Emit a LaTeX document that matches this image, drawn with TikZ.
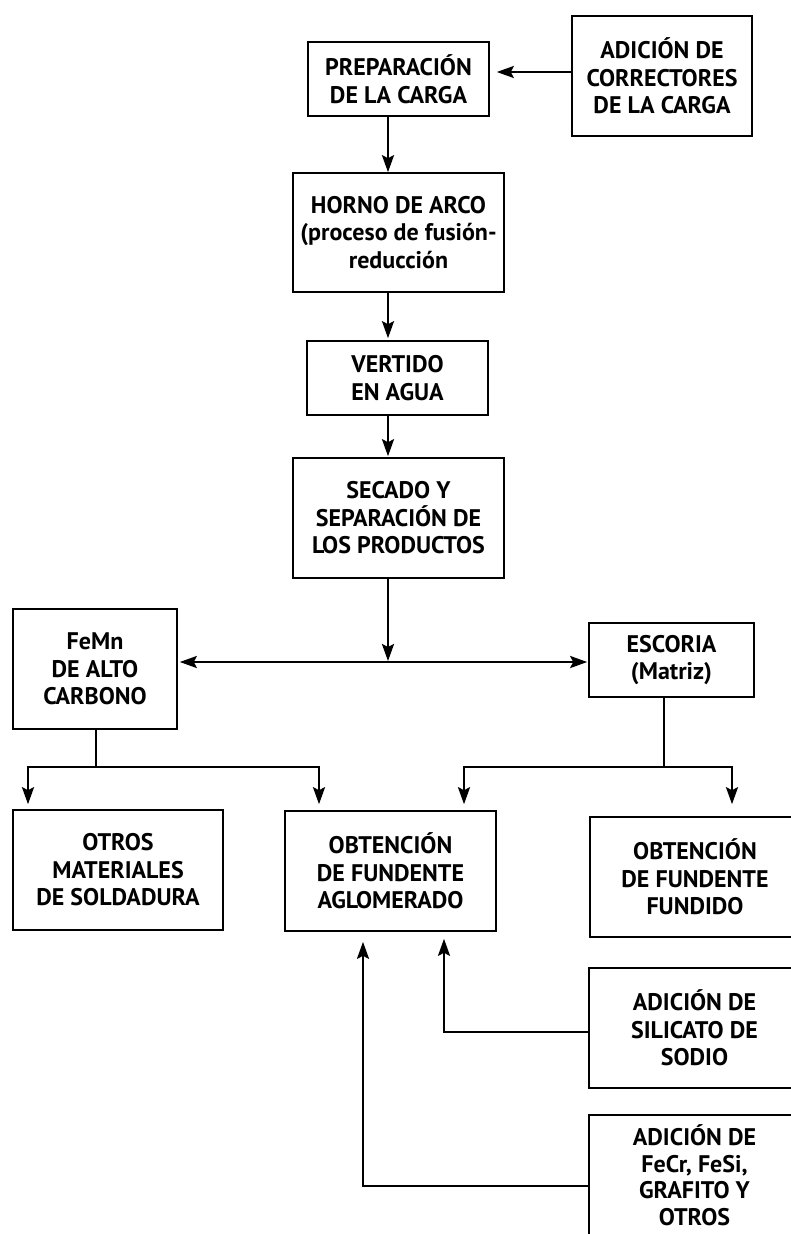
\documentclass[tikz,border=0pt]{standalone}
\usepackage{fontspec}
\setmainfont{PT Sans}
\usetikzlibrary{arrows.meta,calc}
\begin{document}
\begin{tikzpicture}[x=1pt,y=-1pt,
  box/.style={draw,line width=1.6pt,inner sep=0pt,align=center,
    font=\bfseries\fontsize{24}{27.5}\selectfont},
  tip/.tip={Stealth[length=17pt,width=12pt,inset=3pt]},
  arr/.style={line width=2.4pt,-tip},
  ln/.style={line width=2.4pt}]
\useasboundingbox (0,0) rectangle (791,1234);
\clip (0,0) rectangle (791,1234);
\fill[white] (0,0) rectangle (791,1234);
% boxes
\node[box,minimum width=181pt,minimum height=74pt] (prep) at (398.5,79) {PREPARACIÓN\\DE LA CARGA};
\node[box,minimum width=180pt,minimum height=120pt] (corr) at (662,76) {ADICIÓN DE\\CORRECTORES\\DE LA CARGA};
\node[box,minimum width=211pt,minimum height=119pt] (horno) at (398.5,232.5) {HORNO DE ARCO\\(proceso de fusión-\\reducción};
\node[box,minimum width=181pt,minimum height=74pt] (vert) at (397.5,378) {VERTIDO\\EN AGUA};
\node[box,minimum width=211pt,minimum height=120pt] (sec) at (398.5,518) {SECADO Y\\SEPARACIÓN DE\\LOS PRODUCTOS};
\node[box,minimum width=164pt,minimum height=120pt] (femn) at (95,669) {FeMn\\DE ALTO\\CARBONO};
\node[box,minimum width=165pt,minimum height=74pt] (esc) at (671.5,660) {ESCORIA\\(Matriz)};
\node[box,minimum width=210pt,minimum height=120pt] (otros) at (118,870) {OTROS\\MATERIALES\\DE SOLDADURA};
\node[box,minimum width=211pt,minimum height=120pt] (aglo) at (390.5,871) {OBTENCIÓN\\DE FUNDENTE\\AGLOMERADO};
\node[box,minimum width=210pt,minimum height=120pt] (fund) at (695,877) {OBTENCIÓN\\DE FUNDENTE\\FUNDIDO};
\node[box,minimum width=211pt,minimum height=120pt] (sil) at (694.5,1028) {ADICIÓN DE\\SILICATO DE\\SODIO};
\node[box,minimum width=211pt,minimum height=120pt,font=\bfseries\fontsize{24}{26.5}\selectfont] (fecr) at (694.5,1175) {ADICIÓN DE\\FeCr, FeSi,\\GRAFITO Y\\OTROS};
% helper coordinates
\coordinate (ax) at (388,0);
\coordinate (ty) at (0,72);
\coordinate (j) at (388,662);
\coordinate (fx) at (96,767);
\coordinate (fl) at (28,767);
\coordinate (fr) at (319,767);
\coordinate (ex) at (664,767);
\coordinate (el) at (464,767);
\coordinate (er) at (732,767);
\coordinate (s1) at (444,1032);
\coordinate (s2) at (363,1186);
% connectors
\draw[arr,shorten >=7pt] (corr.west |- ty) -- (prep.east |- ty);
\draw[arr] (prep.south -| ax) -- (horno.north -| ax);
\draw[arr,shorten >=2pt] (horno.south -| ax) -- (vert.north -| ax);
\draw[arr,shorten >=1pt] (vert.south -| ax) -- (sec.north -| ax);
\draw[arr,shorten >=1pt] (sec.south -| ax) -- (j);
\draw[line width=2.4pt,tip-tip,shorten <=2pt,shorten >=1pt] (femn.east |- j) -- (esc.west |- j);
\draw[ln] (fx |- femn.south) -- (fx);
\draw[arr,shorten >=5pt] (fx) -- (fl) -- (fl |- otros.north);
\draw[arr,shorten >=6pt] (fx) -- (fr) -- (fr |- aglo.north);
\draw[ln] (ex |- esc.south) -- (ex);
\draw[arr,shorten >=6pt] (ex) -- (el) -- (el |- aglo.north);
\draw[arr,shorten >=12pt] (ex) -- (er) -- (er |- fund.north);
\draw[arr,shorten >=7pt] (sil.west |- s1) -- (s1) -- (s1 |- aglo.south);
\draw[arr,shorten >=10pt] (fecr.west |- s2) -- (s2) -- (s2 |- aglo.south);
\end{tikzpicture}
\end{document}
